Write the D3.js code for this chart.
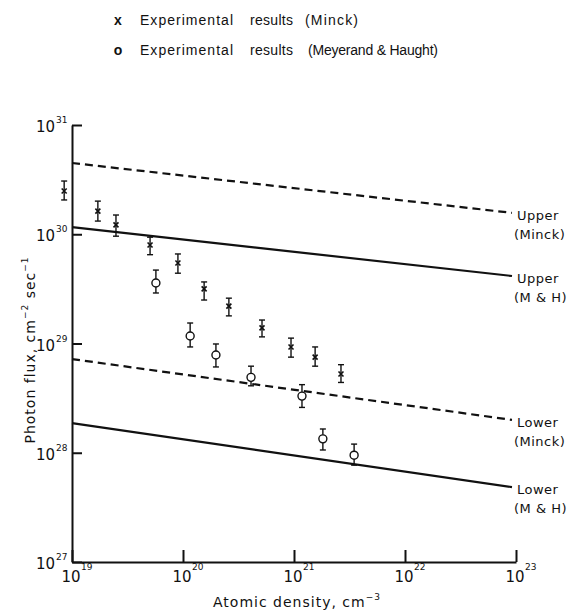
<!DOCTYPE html>
<html>
<head>
<meta charset="utf-8">
<script src="https://cdn.jsdelivr.net/npm/d3@7"></script>
<style>
  body { margin: 0; background: #fff; }
  svg { display: block; font-family: 'DejaVu Sans', sans-serif; }
</style>
</head>
<body>
<div id="grafico"></div>
<script>
// Experimental results (Minck): density, flux, error bar low / high
const MINCK_DENSITY = [8.5e18, 1.71e19, 2.49e19, 5.05e19, 9.0e19, 1.55e20, 2.59e20, 5.15e20, 9.4e20, 1.55e21, 2.65e21]
const MINCK_FLUX = [2.49e30, 1.63e30, 1.22e30, 7.98e29, 5.46e29, 3.16e29, 2.2e29, 1.39e29, 9.3e28, 7.5e28, 5.26e28]
const MINCK_LOW = [2.06e30, 1.32e30, 9.6e29, 6.5e29, 4.4e29, 2.5e29, 1.79e29, 1.15e29, 7.5e28, 6.2e28, 4.4e28]
const MINCK_HIGH = [3.07e30, 2.01e30, 1.5e30, 9.4e29, 6.6e29, 3.66e29, 2.6e29, 1.64e29, 1.12e29, 9.3e28, 6.4e28]

// Experimental results (Meyerand & Haught)
const MH_DENSITY = [5.7e19, 1.16e20, 1.98e20, 4.1e20, 1.18e21, 1.82e21, 3.48e21]
const MH_FLUX = [3.58e29, 1.17e29, 7.85e28, 4.9e28, 3.3e28, 1.34e28, 9.5e27]
const MH_LOW = [2.9e29, 9.3e28, 6.1e28, 4.1e28, 2.6e28, 1.06e28, 7.7e27]
const MH_HIGH = [4.7e29, 1.54e29, 9.9e28, 6.2e28, 4.2e28, 1.65e28, 1.2e28]

// Theoretical limits: value at both ends of the density range
const LIMIT_NAMES = [['Upper', '(Minck)'], ['Upper', '(M & H)'], ['Lower', '(Minck)'], ['Lower', '(M & H)']]
const LIMIT_DASHED = [true, false, true, false]
const LIMIT_DENSITY = [1e19, 9.2e22]
const LIMIT_START = [4.49e30, 1.16e30, 7.2e28, 1.87e28]
const LIMIT_END = [1.57e30, 4.15e29, 2.0e28, 4.85e27]

const X_TICKS = [1e19, 1e20, 1e21, 1e22, 1e23]
const X_TICK_EXP = ['19', '20', '21', '22', '23']
const Y_TICKS = [1e27, 1e28, 1e29, 1e30, 1e31]
const Y_TICK_EXP = ['27', '28', '29', '30', '31']

const LEGEND_SYMBOLS = ['x', 'o']
const LEGEND_SOURCES = ['(Minck)', '(Meyerand & Haught)']

function drawChart () {
  const WIDTH = 572
  const HEIGHT = 613
  const PLOT = { left: 72, right: 516, top: 125, bottom: 562 }
  const INK = '#111'

  const svg = d3.select('#grafico')
    .append('svg')
    .attr('width', WIDTH)
    .attr('height', HEIGHT)

  const x = d3.scaleLog().domain([1e19, 1e23]).range([PLOT.left, PLOT.right])
  const y = d3.scaleLog().domain([1e27, 1e31]).range([PLOT.bottom, PLOT.top])

  // Eixos
  const xAxis = svg.append('g')
    .attr('transform', `translate(0,${PLOT.bottom})`)
    .call(d3.axisBottom(x).tickValues(X_TICKS).tickSize(-12).tickSizeOuter(0).tickFormat(''))
  const yAxis = svg.append('g')
    .attr('transform', `translate(${PLOT.left},0)`)
    .call(d3.axisLeft(y).tickValues(Y_TICKS).tickSize(-10).tickSizeOuter(0).tickFormat(''))
  ;[xAxis, yAxis].forEach(g => {
    g.selectAll('path, line').attr('stroke', INK).attr('stroke-width', 2)
  })

  // Tick labels
  const xl = svg.append('g').attr('fill', INK)
  X_TICKS.forEach((t, i) => {
    xl.append('text').attr('x', x(t) - 1).attr('y', 582)
      .attr('text-anchor', 'middle').style('font-size', '15px').text('10')
    xl.append('text').attr('x', x(t) + 9).attr('y', 570)
      .style('font-size', '9px').text(X_TICK_EXP[i])
  })
  const yl = svg.append('g').attr('fill', INK)
  Y_TICKS.forEach((t, i) => {
    yl.append('text').attr('x', 55).attr('y', y(t) + 7)
      .attr('text-anchor', 'end').style('font-size', '15px').text('10')
    yl.append('text').attr('x', 56).attr('y', y(t) - 2)
      .style('font-size', '9px').text(Y_TICK_EXP[i])
  })

  // Titulos dos eixos
  const xt = svg.append('text').attr('x', 297).attr('y', 607)
    .attr('text-anchor', 'middle').attr('fill', INK)
    .style('font-size', '14px').style('letter-spacing', '1px')
  xt.append('tspan').text('Atomic density, cm')
  xt.append('tspan').attr('dy', -7).style('font-size', '9px').text('−3')

  const yt = svg.append('text')
    .attr('transform', 'translate(35,350) rotate(-90)')
    .attr('text-anchor', 'middle').attr('fill', INK)
    .style('font-size', '14px').style('letter-spacing', '1px')
  yt.append('tspan').text('Photon flux, cm')
  yt.append('tspan').attr('dy', -7).style('font-size', '9px').text('−2')
  yt.append('tspan').attr('dy', 7).text(' sec')
  yt.append('tspan').attr('dy', -7).style('font-size', '9px').text('−1')

  // Limites teoricos
  const limits = LIMIT_NAMES.map((name, i) => ({
    name,
    dashed: LIMIT_DASHED[i],
    pts: [[LIMIT_DENSITY[0], LIMIT_START[i]], [LIMIT_DENSITY[1], LIMIT_END[i]]]
  }))
  const line = d3.line().x(d => x(d[0])).y(d => y(d[1]))
  svg.append('g').selectAll('path')
    .data(limits)
    .join('path')
    .attr('d', d => line(d.pts))
    .attr('fill', 'none')
    .attr('stroke', INK)
    .attr('stroke-width', 2.2)
    .attr('stroke-dasharray', d => d.dashed ? '8,5' : null)

  const lab = svg.append('g').attr('fill', INK).style('font-size', '13px').style('letter-spacing', '0.5px')
  limits.forEach(d => {
    const ex = x(d.pts[1][0])
    const ey = y(d.pts[1][1])
    lab.append('text').attr('x', ex + 5).attr('y', ey + 7).text(d.name[0])
    lab.append('text').attr('x', ex + 2).attr('y', ey + 26).text(d.name[1])
  })

  // Barras de erro
  const minck = MINCK_DENSITY.map((d, i) => ({ x: d, y: MINCK_FLUX[i], lo: MINCK_LOW[i], hi: MINCK_HIGH[i] }))
  const mh = MH_DENSITY.map((d, i) => ({ x: d, y: MH_FLUX[i], lo: MH_LOW[i], hi: MH_HIGH[i] }))

  const errorBars = (data) => {
    const g = svg.append('g').attr('stroke', INK).attr('stroke-width', 1.4)
    data.forEach(d => {
      const cx = x(d.x)
      g.append('line').attr('x1', cx).attr('x2', cx).attr('y1', y(d.lo)).attr('y2', y(d.hi))
      g.append('line').attr('x1', cx - 3).attr('x2', cx + 3).attr('y1', y(d.lo)).attr('y2', y(d.lo))
      g.append('line').attr('x1', cx - 3).attr('x2', cx + 3).attr('y1', y(d.hi)).attr('y2', y(d.hi))
    })
  }
  errorBars(minck)
  errorBars(mh)

  svg.append('g').selectAll('path')
    .data(minck)
    .join('path')
    .attr('d', d => {
      const cx = x(d.x); const cy = y(d.y); const s = 2.5
      return `M${cx - s},${cy - s}L${cx + s},${cy + s}M${cx - s},${cy + s}L${cx + s},${cy - s}`
    })
    .attr('stroke', INK)
    .attr('stroke-width', 1.6)

  svg.append('g').selectAll('circle')
    .data(mh)
    .join('circle')
    .attr('cx', d => x(d.x))
    .attr('cy', d => y(d.y))
    .attr('r', 4)
    .attr('fill', '#fff')
    .attr('stroke', INK)
    .attr('stroke-width', 1.4)

  // Legenda
  const leg = svg.append('g').attr('fill', INK)
    .style('font-family', "'Liberation Sans', sans-serif").style('font-size', '14px')
  const SOURCE_WIDTH = [53, 130]
  const SOURCE_X = [305, 308]
  LEGEND_SYMBOLS.forEach((s, i) => {
    const by = 25 + i * 30
    leg.append('text').attr('x', 118).attr('y', by).attr('text-anchor', 'middle').style('font-weight', 'bold').text(s)
    leg.append('text').attr('x', 140).attr('y', by)
      .attr('textLength', 93).attr('lengthAdjust', 'spacing').text('Experimental')
    leg.append('text').attr('x', 250).attr('y', by)
      .attr('textLength', 43).attr('lengthAdjust', 'spacing').text('results')
    leg.append('text').attr('x', SOURCE_X[i]).attr('y', by)
      .attr('textLength', SOURCE_WIDTH[i]).attr('lengthAdjust', 'spacing')
      .text(LEGEND_SOURCES[i])
  })
}

window.addEventListener('DOMContentLoaded', () => {
  drawChart()
})
</script>
</body>
</html>
